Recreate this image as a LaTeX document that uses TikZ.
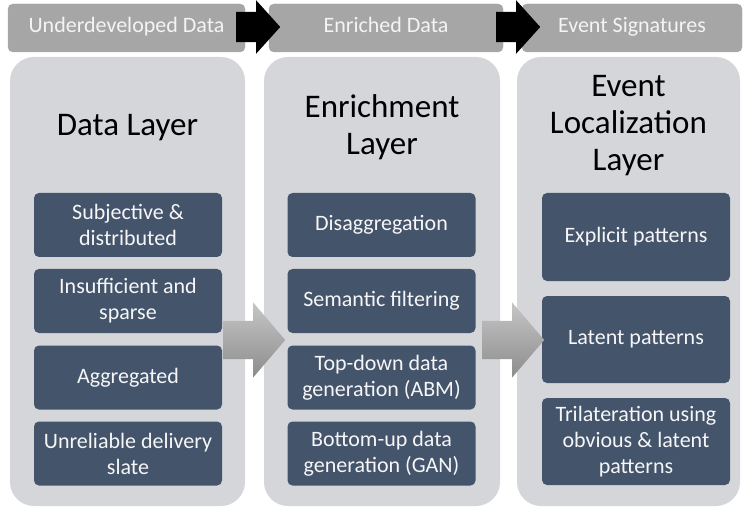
\documentclass[tikz,border=0pt]{standalone}
\usepackage{fontspec}
\setmainfont{Carlito}
\usetikzlibrary{shapes.arrows}
\definecolor{panelgray}{HTML}{D5D6DA}
\definecolor{boxslate}{HTML}{44546A}
\definecolor{tabgray}{HTML}{A6A6A6}
\definecolor{tabtext}{HTML}{F4F4F4}
\tikzset{
  tab/.style={fill=tabgray, draw=black!35, rounded corners=5pt, inner sep=0pt,
    minimum height=48pt, text height=15pt, text depth=5pt, text=tabtext,
    font=\fontsize{22}{26}\selectfont},
  panel/.style={fill=panelgray, rounded corners=24pt, inner sep=0pt, minimum height=449pt},
  layertitle/.style={align=flush center, font=\fontsize{33}{37}\selectfont},
  item/.style={fill=boxslate, rounded corners=5pt, inner sep=0pt, minimum width=188pt,
    text width=184pt, align=flush center, text=white!95!boxslate,
    font=\fontsize{22}{26}\selectfont},
  blackarrow/.style={single arrow, anchor=tail, fill=black, inner xsep=0pt, inner ysep=15pt,
    single arrow head extend=11.5pt, single arrow tip angle=96, minimum height=44pt},
  grayarrow/.style={single arrow, anchor=tail, shading=axis, top color=gray!45,
    bottom color=gray!90, inner xsep=0pt, inner ysep=19pt, single arrow head extend=18.5pt,
    single arrow tip angle=99, minimum height=62pt}
}
\begin{document}
\begin{tikzpicture}[x=1pt, y=-1pt]
    \useasboundingbox (0,0) rectangle (743,510);
    \node[tab, minimum width=237pt] (tabraw)    at (126.5,28) {Underdeveloped Data};
    \node[tab, minimum width=234pt] (tabrich)   at (386,28)   {Enriched Data};
    \node[tab, minimum width=220pt] (tabsig)    at (632,28)   {Event Signatures};
    \node[blackarrow] (topone) at (236,27) {};
    \node[blackarrow] (toptwo) at (496,27) {};

    \node[panel, minimum width=235pt] (datapanel)  at (127.5,281.5) {};
    \node[panel, minimum width=236pt] (richpanel)  at (382,281.5)   {};
    \node[panel, minimum width=223pt] (eventpanel) at (628.5,281.5) {};

    \node[layertitle] (datatitle)  at (127.5,128) {Data Layer};
    \node[layertitle] (richtitle)  at (382,127)   {Enrichment\\Layer};
    \node[layertitle] (eventtitle) at (628.5,126) {Event\\Localization\\Layer};

    \node[item, minimum height=64pt] (subj)   at (128,225)   {Subjective \&\\distributed};
    \node[item, minimum height=64pt] (insuf)  at (128,301)   {Insufficient and\\sparse};
    \node[item, minimum height=64pt] (aggr)   at (128,377.5) {Aggregated};
    \node[item, minimum height=64pt] (unrel)  at (128,453.5) {Unreliable delivery\\slate};

    \node[item, minimum height=64pt] (disagg) at (381.5,225)   {Disaggregation};
    \node[item, minimum height=64pt] (semfil) at (381.5,301)   {Semantic filtering};
    \node[item, minimum height=64pt] (topdown) at (381.5,377.5) {Top-down data\\generation (ABM)};
    \node[item, minimum height=64pt] (botup)  at (381.5,453.5) {Bottom-up data\\generation (GAN)};

    \node[item, minimum height=88pt] (explicit) at (636,237)   {Explicit patterns};
    \node[item, minimum height=87pt] (latent)   at (636,339.5) {Latent patterns};
    \node[item, minimum height=87pt] (trilat)   at (636,441.5) {Trilateration using\\obvious \& latent\\patterns};

    \node[grayarrow] (midone) at (223,340) {};
    \node[grayarrow] (midtwo) at (482,340) {};
\end{tikzpicture}
\end{document}
